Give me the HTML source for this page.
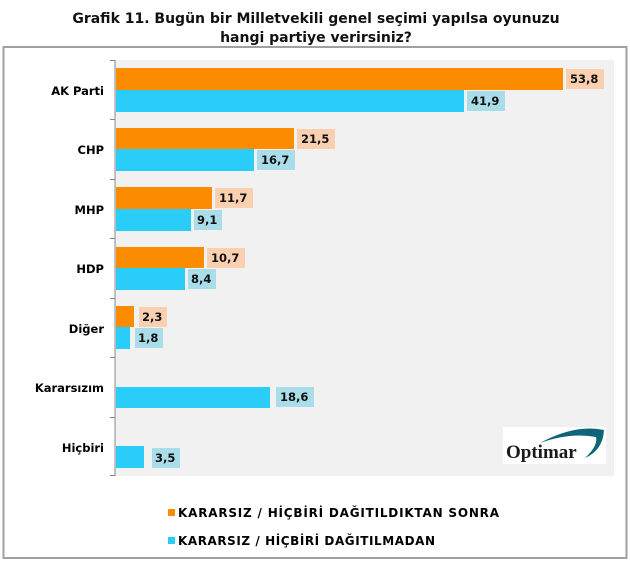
<!DOCTYPE html>
<html><head><meta charset="utf-8"><style>
body{margin:0;background:#fff;width:630px;height:561px;overflow:hidden}
svg text{font-family:"DejaVu Sans","Liberation Sans",sans-serif;font-weight:bold}
</style></head><body>
<svg width="630" height="561" xmlns="http://www.w3.org/2000/svg">
<text x="316" y="23" font-size="14" text-anchor="middle" fill="#111">Grafik 11. Bugün bir Milletvekili genel seçimi yapılsa oyunuzu</text>
<text x="316" y="42" font-size="14" text-anchor="middle" fill="#111">hangi partiye verirsiniz?</text>
<rect x="3.5" y="47" width="623" height="511" fill="none" stroke="#a0a0a0" stroke-width="2"/>
<rect x="115" y="60" width="499" height="416" fill="#f1f1f1"/>
<line x1="115" y1="60" x2="115" y2="476" stroke="#888" stroke-width="1"/>
<g stroke="#888"><line x1="110" y1="60.5" x2="115" y2="60.5"/><line x1="110" y1="119.5" x2="115" y2="119.5"/><line x1="110" y1="179.5" x2="115" y2="179.5"/><line x1="110" y1="238.5" x2="115" y2="238.5"/><line x1="110" y1="298.5" x2="115" y2="298.5"/><line x1="110" y1="357.5" x2="115" y2="357.5"/><line x1="110" y1="417.5" x2="115" y2="417.5"/><line x1="110" y1="475.5" x2="115" y2="475.5"/></g>
<g font-size="11.5" text-anchor="end" fill="#000">
<text x="104" y="95">AK Parti</text><text x="104" y="154">CHP</text><text x="104" y="214">MHP</text><text x="104" y="273">HDP</text><text x="104" y="333">Diğer</text><text x="104" y="392">Kararsızım</text><text x="104" y="452">Hiçbiri</text>
</g>
<g fill="#fb8c00">
<rect x="116" y="68" width="447" height="22"/>
<rect x="116" y="128" width="178" height="21"/>
<rect x="116" y="187" width="96" height="22"/>
<rect x="116" y="247" width="88" height="21"/>
<rect x="116" y="306" width="18" height="21"/>
</g>
<g fill="#29cdf8">
<rect x="116" y="90" width="348" height="22"/>
<rect x="116" y="149" width="138" height="22"/>
<rect x="116" y="209" width="75" height="22"/>
<rect x="116" y="268" width="69" height="22"/>
<rect x="116" y="327" width="14" height="22"/>
<rect x="116" y="387" width="154" height="21"/>
<rect x="116" y="446" width="28" height="22"/>
</g>
<g fill="#fbd0b0">
<rect x="566" y="69" width="38" height="20"/>
<rect x="297" y="129" width="38" height="20"/>
<rect x="215" y="188" width="38" height="20"/>
<rect x="207" y="248" width="38" height="20"/>
<rect x="139" y="307" width="28" height="20"/>
</g>
<g fill="#a9dde9">
<rect x="467" y="91" width="38" height="20"/>
<rect x="257" y="150" width="38" height="20"/>
<rect x="194" y="210" width="28" height="20"/>
<rect x="188" y="269" width="28" height="20"/>
<rect x="135" y="328" width="28" height="20"/>
<rect x="276" y="387" width="38" height="20"/>
<rect x="152" y="448" width="28" height="20"/>
</g>
<g font-size="11.5" fill="#111">
<text x="570" y="83">53,8</text><text x="471" y="105">41,9</text>
<text x="301" y="143">21,5</text><text x="261" y="164">16,7</text>
<text x="219" y="202">11,7</text><text x="197" y="224">9,1</text>
<text x="211" y="262">10,7</text><text x="191" y="283">8,4</text>
<text x="142" y="321">2,3</text><text x="138" y="342">1,8</text>
<text x="280" y="401">18,6</text><text x="155" y="462">3,5</text>
</g>
<rect x="503" y="427" width="103" height="37" fill="#fff"/>
<path d="M540 443 Q575 424 604 430 Q603 450 585 458 Q598 446 596 437 Q570 432 540 443Z" fill="#0e6478"/>
<text x="506" y="458" font-size="19" fill="#1a1a1a" style="font-family:'Liberation Serif',serif;font-weight:bold">Optimar</text>
<rect x="168" y="509" width="7" height="7" fill="#fb8c00"/>
<rect x="168" y="537" width="7" height="7" fill="#29cdf8"/>
<g font-size="12" fill="#000">
<text x="178" y="517" textLength="321">KARARSIZ / HİÇBİRİ  DAĞITILDIKTAN SONRA</text>
<text x="178" y="545" textLength="257">KARARSIZ / HİÇBİRİ DAĞITILMADAN</text>
</g>
</svg>
</body></html>
